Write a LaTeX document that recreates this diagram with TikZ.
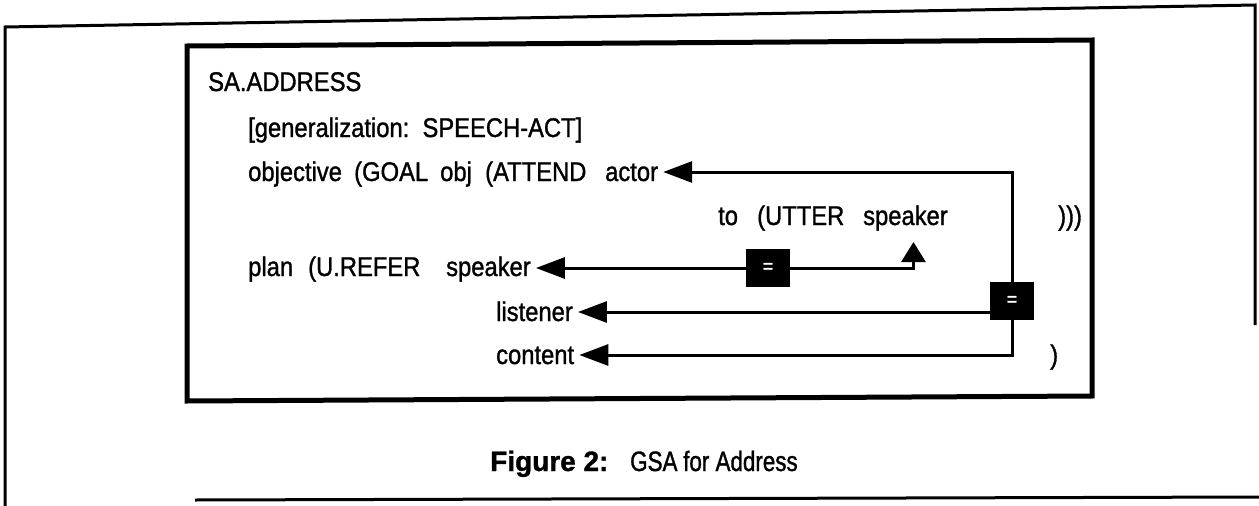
\documentclass[tikz,border=0pt]{standalone}
\usepackage{fontspec}
\setmainfont{Liberation Sans}[FakeStretch=0.88, FakeBold=1.2]
\newfontfamily\capfig{Liberation Sans}[FakeBold=1.2]
\newfontfamily\capnarrow{Liberation Sans}[FakeStretch=0.8, FakeBold=1.2]
\usetikzlibrary{arrows.meta}
\begin{document}
\begin{tikzpicture}[x=1pt,y=-1pt,
  txt/.style={anchor=base west, inner sep=0pt, font=\fontsize{27}{30}\selectfont},
  capA/.style={anchor=base west, inner sep=0pt, font=\capfig\bfseries\fontsize{28}{30}\selectfont},
  capB/.style={anchor=base west, inner sep=0pt, font=\capnarrow\fontsize{28}{30}\selectfont},
  eqbox/.style={fill=black, minimum width=44pt, minimum height=38pt, inner sep=0pt, text=white, font=\fontsize{20}{20}\selectfont},
  link/.style={line width=3pt, -{Triangle[length=29pt,width=21pt]}},
  uplink/.style={line width=3pt, -{Triangle[length=20pt,width=24pt]}},
  frame/.style={line width=3pt},
  ibox/.style={line width=5pt, line join=miter}]
\useasboundingbox (0,0) rectangle (1259,506);
% frames
\draw[frame] (5,506) -- (5,27) -- (1255,5) -- (1255,325);
\draw[frame] (195,500) -- (1259,497);
\draw[ibox] (187,46) -- (1092,40) -- (1092,396) -- (187,401) -- cycle;
% text
\node[txt] (sa) at (208,91) {SA.ADDRESS};
\node[txt] (gen) at (248,137) {[generalization:\ \ SPEECH-ACT]};
\node[txt] (objv) at (248,181) {objective};
\node[txt] (goal) at (354,181) {(GOAL};
\node[txt] (objw) at (440,181) {obj};
\node[txt] (attend) at (485,181) {(ATTEND};
\node[txt] (actor) at (605,181) {actor};
\node[txt] (to) at (718,225) {to};
\node[txt] (utter) at (757,225) {(UTTER};
\node[txt] (spk2) at (863,225) {speaker};
\node[txt] (cl3) at (1058,225) {)))};
\node[txt] (plan) at (248,276) {plan};
\node[txt] (refer) at (308,276) {(U.REFER};
\node[txt] (spk1) at (446,276) {speaker};
\node[txt] (lis) at (496,321) {listener};
\node[txt] (con) at (496,364) {content};
\node[txt] (cl1) at (1050,364) {)};
\node[eqbox] (eq1) at (768,268) {=};
\node[eqbox] (eq2) at (1012,301) {=};
\node[capA] (cap1) at (490,471) {Figure 2:};
\node[capB] (cap2) at (630,471) {GSA};
\node[capB] (cap3) at (683,471) {for Address};
% connectors
\coordinate (actE) at ([shift={(5,-9)}]actor.base east);
\coordinate (lisE) at ([shift={(5,-9)}]lis.base east);
\coordinate (conE) at ([shift={(5,-9)}]con.base east);
\coordinate (spk1E) at ([shift={(5,-8)}]spk1.base east);
\coordinate (spk2S) at ([shift={(8,17)}]spk2.base);
\draw[link] (eq2.north) |- (actE);
\draw[link] (eq2.west |- lisE) -- (lisE);
\draw[link] (eq2.south) |- (conE);
\draw[link] (eq1.west) -- (spk1E);
\draw[uplink] (eq1.east) -| (spk2S);
\end{tikzpicture}
\end{document}
